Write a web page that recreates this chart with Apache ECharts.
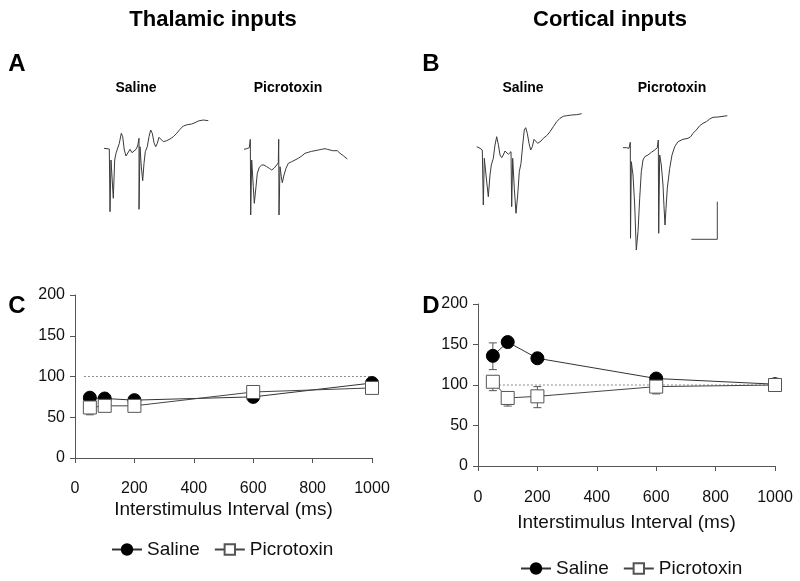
<!DOCTYPE html>
<html><head><meta charset="utf-8">
<script src="https://cdn.jsdelivr.net/npm/echarts@6/dist/echarts.min.js"></script>
<style>html,body{margin:0;padding:0;background:#fff}#c{width:800px;height:581px}</style>
</head><body><div id="c"></div>
<script>
// ---------- Paired-pulse data (C: thalamic, D: cortical) ----------
const intervals = [50, 100, 200, 600, 1000];
const xTicks = [0, 200, 400, 600, 800, 1000];
const yTicks = [0, 50, 100, 150, 200];
const salineC = [74, 73, 71, 75, 92];
const picroC  = [62, 64, 64, 81, 86];
const salineD = [136, 153, 133, 108, 101];
const picroD  = [104, 84, 86, 98, 100];
// error ranges [low, high]
const salineErrC = [[71, 76], [71, 75], [69, 73], [73, 77], [89, 94]];
const picroErrC  = [[53, 70], [60, 68], [60, 68], [77, 84], [83, 89]];
const salineErrD = [[119, 152], [149, 157], [129, 137], [104, 111], [97, 104]];
const picroErrD  = [[93, 111], [74, 90], [72, 98], [89, 105], [96, 103]];
const refX = [30, 1000];
const refY = [100, 100];

// ---------- Example traces (time, amplitude; arbitrary units) ----------
const trAsal_t = [4,9.3,10,11,13.3,14.7,16,17.7,19.3,21.3,22.7,24.3,26,28,30,32,34,36,37.7,39,39,40,41.3,42.7,44,45.3,47.3,49,50.7,52.3,54,55.7,57.3,59,61,63.3,66.7,70,73.3,76.7,80,83.3,87.3,91.7,95,98.3,103.3,108.3];
const trAsal_v = [66.7,66,3.3,55,16.7,55,61.7,63.3,71.7,81.7,78.3,65,59,61,65.7,62.3,61.7,65.7,69,76.7,5.7,68.3,48.3,34.3,51.7,63.3,68.3,78.3,85,81.7,72.3,68.3,71.7,77.7,75.7,73.3,74.3,76,78.3,81.7,85.7,89,90.3,91,92.3,94,95,94.3];
const trApic_t = [4,6.7,9.3,10.3,10.7,11.7,13.3,14.3,16,17.3,19.3,21.7,24,26.7,29.3,31.7,34,36.7,38.3,38.7,39,40,41.3,42.3,44,46,48.3,51.7,55,58.3,61.7,65,68.3,71.7,75,78.3,81.7,85,87.3,90,92.7,95,97.3,100,103.3,107.3];
const trApic_v = [65.7,66.3,67.3,75.7,0,55,28.3,11.7,28.3,41.7,47.7,50,50,48.3,46.7,45,46.7,50,52.3,75.7,0,48.3,38.3,32.3,40,46.7,51.7,53.3,55,56.7,59,61.7,62.7,63.7,64.3,65,65.7,66.3,65.7,65,64.3,64.3,64.3,61.7,59.3,56];
const trBsal_t = [1.7,5,7.3,8.3,9.3,11,13.3,15,16.3,18.3,20,21.7,23.3,25,26.7,28.3,30,31.7,33.3,35,36,36.7,37.7,39.3,41,42.7,44.3,46,47.7,49.3,50.7,52.3,54,55.7,57.3,59,61,62.7,64.3,66,68.3,71.7,75,78.3,81.7,85,88.3,91.7,96.7,101.7,106.7];
const trBsal_v = [73.3,71.7,70,15,61.7,45,23.3,45,55,61.7,75,83.3,75.7,65,62.3,65,69,68.3,65.7,65,68.3,13.3,61.7,31.7,6.7,25,48.3,56.7,75,90,92.3,86.7,76.7,70,73.3,80.7,80,76.7,75.7,79,81.7,84.3,88.3,93.3,98.3,101.7,103.7,104.3,105,105.3,106.3];
const trBpic_t = [5,8.3,11,12.3,12.5,13.3,15,16.7,18.3,20,21.7,23.3,25,26.7,30,33.3,36.7,39.3,40.3,40.7,41.7,43.3,45,46,47,48,49.3,51.7,54,56.7,60,65,70,72.7,75,78.3,81.7,85,88.3,91.7,95,100,105,109.3];
const trBpic_v = [107.3,107.3,106.7,112.7,16.7,93.3,80,50,5,23.3,56.7,83.3,95,98.3,100,102.7,105,107.3,115,21.7,100,90,70,48.3,30,46.7,66.7,86.7,100,108.3,113.3,115.7,116.7,118.3,121.7,125,129.3,131.7,133.3,136,137.7,138,138.7,139.3];
const scaleBar_t = [73.3, 99.3, 99.3];
const scaleBar_v = [15.7, 15.7, 53.3];

const FONT = "'Liberation Sans', Arial, Helvetica, sans-serif";
const zip = (a, b) => a.map((v, i) => [v, b[i]]);

const chart = echarts.init(document.getElementById('c'), null, {renderer: 'canvas'});

// trace grids: [left, top, width, height]
const traceBoxes = [[100,110,115,105],[240,110,115,105],[475,105,110,115],[618,105,115,150]];
const traceData = [[trAsal_t,trAsal_v],[trApic_t,trApic_v],[trBsal_t,trBsal_v],[trBpic_t,trBpic_v]];

const grids = [], xAxes = [], yAxes = [], series = [];
traceBoxes.forEach((b, i) => {
  grids.push({left: b[0], top: b[1], width: b[2], height: b[3]});
  xAxes.push({gridIndex: i, type: 'value', min: 0, max: b[2], show: false});
  yAxes.push({gridIndex: i, type: 'value', min: 0, max: b[3], show: false});
  series.push({type: 'line', xAxisIndex: i, yAxisIndex: i, data: zip(traceData[i][0], traceData[i][1]),
    showSymbol: false, symbol: 'none', lineStyle: {color: '#3a3a3a', width: 1}, silent: true, z: 2});
});
series.push({type: 'line', xAxisIndex: 3, yAxisIndex: 3, data: zip(scaleBar_t, scaleBar_v),
  symbol: 'none', lineStyle: {color: '#444', width: 1}, silent: true});

// plot grids
const plotBoxes = [[75,295,297,163],[478,304,297,162]];
const labelMargins = [23, 24], nameGaps = [42, 47];
plotBoxes.forEach((b, k) => {
  const gi = 4 + k;
  grids.push({left: b[0], top: b[1], width: b[2], height: b[3]});
  xAxes.push({gridIndex: gi, type: 'value', min: xTicks[0], max: xTicks[xTicks.length-1], interval: 200,
    axisLine: {lineStyle: {color: '#555', width: 1}},
    axisTick: {inside: false, length: 5, lineStyle: {color: '#555'}},
    axisLabel: {color: '#111', fontSize: 16, fontFamily: FONT, margin: labelMargins[k], formatter: v => String(v)},
    splitLine: {show: false},
    name: 'Interstimulus Interval (ms)', nameLocation: 'middle', nameGap: nameGaps[k],
    nameTextStyle: {color: '#111', fontSize: 19, fontFamily: FONT}});
  yAxes.push({gridIndex: gi, type: 'value', min: yTicks[0], max: yTicks[yTicks.length-1], interval: 50,
    axisLine: {show: true, lineStyle: {color: '#555', width: 1}},
    axisTick: {show: true, inside: false, length: 5, lineStyle: {color: '#555'}},
    axisLabel: {color: '#111', fontSize: 16, fontFamily: FONT, margin: 10, formatter: v => String(v)},
    splitLine: {show: false}});
});

function errSeries(gi, errs) {
  return {type: 'custom', xAxisIndex: gi, yAxisIndex: gi, silent: true, z: 3,
    data: intervals.map((x, i) => [x, errs[i][0], errs[i][1]]),
    encode: {x: 0, y: [1, 2]},
    renderItem: function (params, api) {
      const x = api.value(0);
      const lo = api.coord([x, api.value(1)]), hi = api.coord([x, api.value(2)]);
      const w = 4, st = {stroke: '#555', lineWidth: 1};
      return {type: 'group', children: [
        {type: 'line', shape: {x1: lo[0], y1: lo[1], x2: hi[0], y2: hi[1]}, style: st},
        {type: 'line', shape: {x1: lo[0]-w, y1: lo[1], x2: lo[0]+w, y2: lo[1]}, style: st},
        {type: 'line', shape: {x1: hi[0]-w, y1: hi[1], x2: hi[0]+w, y2: hi[1]}, style: st}
      ]};
    }};
}

[[4, salineC, picroC, salineErrC, picroErrC], [5, salineD, picroD, salineErrD, picroErrD]].forEach(p => {
  const gi = p[0];
  series.push({type: 'line', xAxisIndex: gi, yAxisIndex: gi, data: zip(refX, refY), symbol: 'none', silent: true,
    lineStyle: {color: '#8a8a8a', width: 1, type: [2, 2]}, z: 1});
  series.push(errSeries(gi, p[3]));
  series.push(errSeries(gi, p[4]));
  series.push({name: 'Saline', type: 'line', xAxisIndex: gi, yAxisIndex: gi, data: zip(intervals, p[1]),
    symbol: 'circle', symbolSize: 13, lineStyle: {color: '#333', width: 1},
    itemStyle: {color: '#000', borderColor: '#000', borderWidth: 1}, z: 4});
  series.push({name: 'Picrotoxin', type: 'line', xAxisIndex: gi, yAxisIndex: gi, data: zip(intervals, p[2]),
    symbol: 'rect', symbolSize: 13, lineStyle: {color: '#444', width: 1},
    itemStyle: {color: '#fff', borderColor: '#555', borderWidth: 1}, z: 5});
});

const legendCommon = {data: ['Saline', 'Picrotoxin'], itemWidth: 30, itemHeight: 13, itemGap: 14,
  textStyle: {fontSize: 19, color: '#111', fontFamily: FONT}, selectedMode: false};

const texts = [
  ['Thalamic inputs', 213, 20, 22], ['Cortical inputs', 610, 20, 22],
  ['A', 17, 64, 24], ['B', 431, 64, 24], ['C', 17, 306, 24], ['D', 431, 306, 24],
  ['Saline', 136, 88, 14], ['Picrotoxin', 288, 88, 14], ['Saline', 523, 88, 14], ['Picrotoxin', 672, 88, 14]
];

chart.setOption({
  animation: false,
  backgroundColor: '#fff',
  grid: grids, xAxis: xAxes, yAxis: yAxes, series: series,
  legend: [
    Object.assign({left: 106, top: 535}, legendCommon),
    Object.assign({left: 515, top: 554}, legendCommon)
  ],
  graphic: texts.map(t => ({type: 'text', x: t[1], y: t[2], silent: true,
    style: {text: t[0], fill: '#000', font: 'bold ' + t[3] + 'px ' + FONT, textAlign: 'center', textVerticalAlign: 'middle'}}))
});
</script></body></html>
